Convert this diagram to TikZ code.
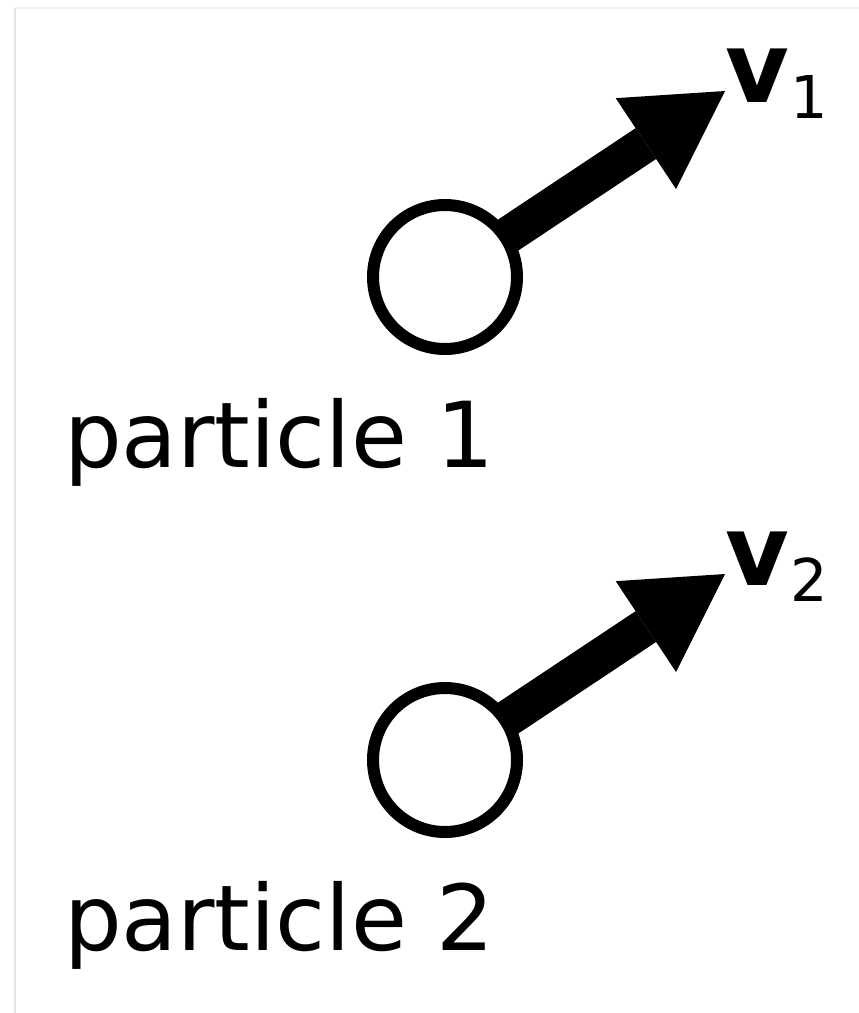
\documentclass[tikz,border=0pt]{standalone}
\usepackage{fontspec}
\setmainfont{DejaVu Sans}
\usetikzlibrary{arrows.meta}
\definecolor{partFrame}{HTML}{E4E4E4}
\definecolor{partFrameTop}{HTML}{EFEFEF}
\tikzset{
  part diagram/.style={
    x=1pt, y=-1pt,
    every node/.style={inner sep=0pt, outer sep=0pt, text=black}
  },
  part ball/.style={circle, draw=black, line width=12pt, fill=white,
    minimum size=144pt},
  part vel/.style={draw=black, line width=37pt,
    -{Triangle[length=95pt,width=109pt,line width=0pt]}},
  part name/.style={anchor=base west,
    font=\fontsize{91}{100}\selectfont},
  part vlabel/.style={anchor=base west,
    font=\fontsize{98}{108}\selectfont\bfseries}
}
\newcommand{\PartSub}[1]{\hspace{2pt}\raisebox{-16pt}{\mdseries\fontsize{59}{65}\selectfont #1}}

\begin{document}
\begin{tikzpicture}[part diagram]
  \useasboundingbox (0,0) rectangle (859,1013);
  % faint frame of the page
  \draw[partFrameTop, line width=1.5pt] (15,8) -- (859,8);
  \draw[partFrame, line width=1.5pt] (15,8) -- (15,1013);
  \foreach \partI/\partY in {1/0, 2/483} {
    \node[part ball] (ball\partI) at (445,277+\partY) {};
    \coordinate (tip\partI) at (725,91+\partY);
    \draw[part vel] (ball\partI) -- (tip\partI);
    \node[part vlabel] (vel\partI) at (725,102+\partY) {v\PartSub{\partI}};
    \node[part name] (name\partI) at (64,467+\partY) {particle \partI};
  }
\end{tikzpicture}
\end{document}
